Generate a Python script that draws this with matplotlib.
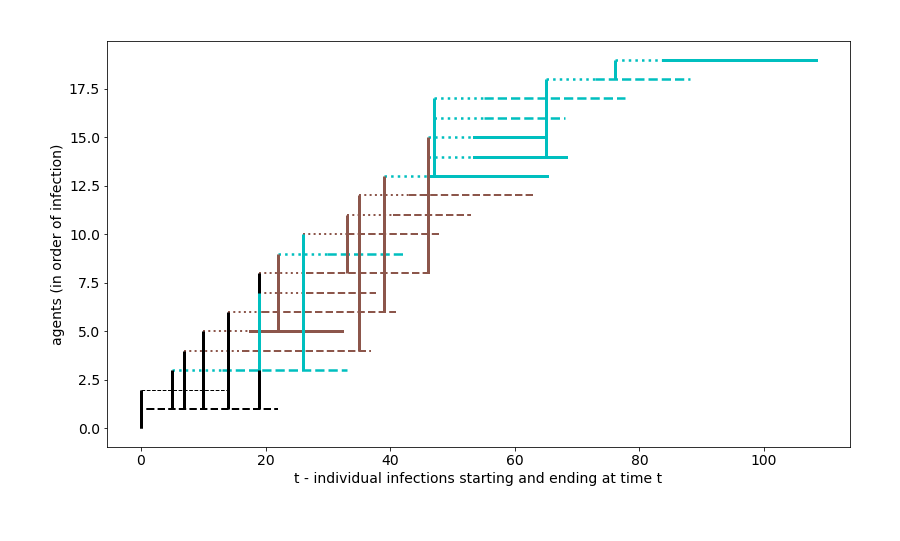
import matplotlib
matplotlib.use("Agg")
import matplotlib.pyplot as plt

# agents 1..19 (agent 0 is the seed, it has no own line)
agent_ids = list(range(1, 20))
infector = [0, 0, 1, 1, 1, 1, 3, 1, 5, 3, 8, 4, 6, 8, 8, 13, 13, 14, 18]
t_infected = [0, 0, 5, 7, 10, 14, 19, 19, 22, 26, 33, 35, 39, 46, 46, 47, 47, 65, 76]
t_onset = [1, 14, 13, 16.3, 17.5, 19.5, 26.5, 26.5, 29.8, 33, 40.4, 43, 46.3,
           53.5, 53.5, 55.1, 55.1, 72.8, 83.8]
t_recovered = [22, 14, 33, 37, 32.2, 41, 37.8, 46.8, 42, 47.9, 53, 63, 65.2,
               68.2, 65, 68.1, 77.7, 88.1, 108.3]
course = ['mild', 'asym', 'mild', 'mild', 'severe', 'mild', 'mild', 'mild', 'mild',
          'mild', 'mild', 'mild', 'severe', 'severe', 'severe', 'mild', 'mild',
          'mild', 'severe']
group = ['k', 'k', 'c', 'b', 'b', 'b', 'b', 'b', 'c', 'b', 'b', 'b', 'c', 'c',
         'c', 'c', 'c', 'c', 'c']

COLORS = {'k': 'black', 'b': '#8c564b', 'c': '#00bfbf'}
LWS = {'k': 2.0, 'b': 2.0, 'c': 2.5}
seed_group = 'k'

# drawn at 72 dpi like the original notebook output
fig, ax = plt.subplots(figsize=(12.5, 7.514), dpi=72)
fig.subplots_adjust(left=0.119, right=0.944, top=0.924, bottom=0.174)

group_of = {0: seed_group}
for a, g in zip(agent_ids, group):
    group_of[a] = g

# horizontal: infectious period of each agent
for a, t0, t1, t2, kind, g in zip(agent_ids, t_infected, t_onset, t_recovered,
                                  course, group):
    col = COLORS[g]
    if kind == 'asym':
        ax.plot([t0, t2], [a, a], color=col, lw=1.0, ls='--', zorder=2)
        continue
    lw = LWS[g]
    ax.plot([t0, t1], [a, a], color=col, lw=lw, ls=':', zorder=2)
    if kind == 'severe':
        ax.plot([t1, t2], [a, a], color=col, lw=3.0, ls='-', zorder=2)
    else:
        ax.plot([t1, t2], [a, a], color=col, lw=lw, ls='--', zorder=2)

# vertical: infector -> infectee at time of infection
for a, src, t0 in reversed(list(zip(agent_ids, infector, t_infected))):
    ax.plot([t0, t0], [src, a], color=COLORS[group_of[src]], lw=3.0,
            solid_capstyle='butt', zorder=3)

ax.set_xlabel('t - individual infections starting and ending at time t', fontsize=14)
ax.set_ylabel('agents (in order of infection)', fontsize=14)
ax.tick_params(labelsize=14)

fig.savefig('out.png', dpi=72)
